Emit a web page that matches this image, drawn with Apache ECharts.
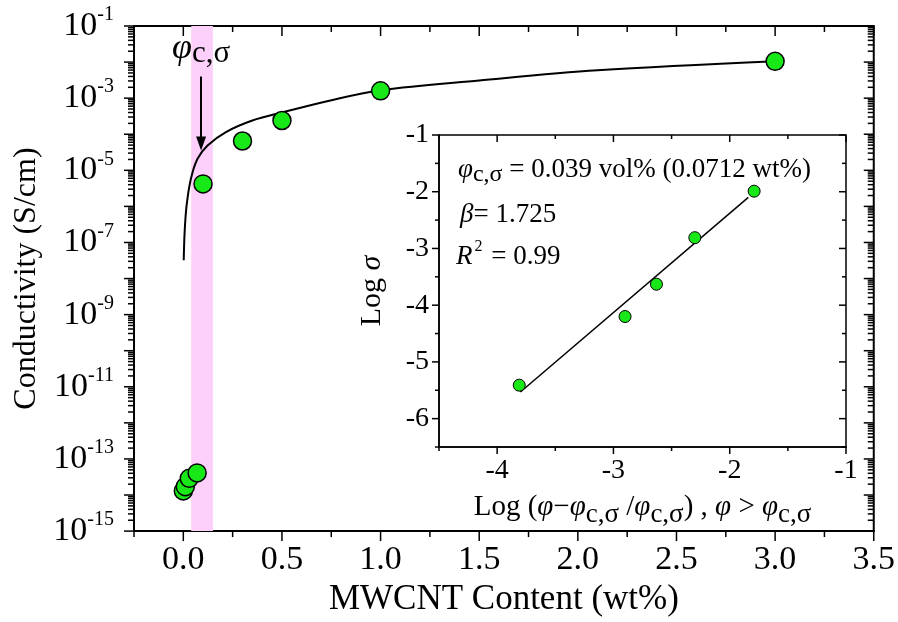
<!DOCTYPE html>
<html>
<head>
<meta charset="utf-8">
<script src="https://cdn.jsdelivr.net/npm/echarts@6/dist/echarts.min.js"></script>
<style>
html, body { margin: 0; padding: 0; background: #fff; }
#chart { width: 898px; height: 622px; }
</style>
</head>
<body>
<div id="chart"></div>
<script>
// main panel: measured conductivity vs MWCNT content
var contentWt = [0, 0.01, 0.03, 0.07, 0.1, 0.3, 0.5, 1.0, 3.0];
var conductivity = [1.3e-14, 1.7e-14, 2.9e-14, 4.1e-14, 4.2e-6, 6.5e-5, 2.4e-4, 1.6e-3, 1.05e-2];

// percolation fit curve
var fitWt = [0.002, 0.007, 0.017, 0.039, 0.072, 0.123, 0.216, 0.35, 0.5, 0.74, 1.0, 1.5, 2.1, 3.0];
var fitSigma = [3.2e-8, 2.1e-7, 1.1e-6, 6.0e-6, 2.1e-5, 4.9e-5, 1.15e-4, 2.4e-4, 4.0e-4, 8.5e-4, 1.66e-3, 3.1e-3, 5.9e-3, 1.05e-2];

// shaded threshold window and the arrow pointing at it
var bandWt = [0.04, 0.15];
var arrowWt = 0.09;
var arrowSigma = [4e-3, 5.5e-5];

// inset: log sigma vs log reduced content
var insetLogPhi = [-3.81, -2.90, -2.63, -2.30, -1.79];
var insetLogSigma = [-5.41, -4.20, -3.63, -2.81, -1.99];
var insetFitX = [-3.8, -1.84];
var insetFitY = [-5.53, -2.10];

// axis ranges and tick values
var mainXRange = [-0.25, 3.5];
var mainYRange = [1e-15, 1e-1];
var insetXRange = [-4.5, -1];
var insetYRange = [-6.5, -1];
var xLabelTicks = [0, 0.5, 1.0, 1.5, 2.0, 2.5, 3.0, 3.5];
var xMinorTicks = [-0.25, 0.25, 0.75, 1.25, 1.75, 2.25, 2.75, 3.25];
var yLabelTicks = [1e-15, 1e-13, 1e-11, 1e-9, 1e-7, 1e-5, 1e-3, 1e-1];
var yDecadeTicks = [1e-15, 1e-14, 1e-13, 1e-12, 1e-11, 1e-10, 1e-9, 1e-8, 1e-7, 1e-6, 1e-5, 1e-4, 1e-3, 1e-2, 1e-1];
var insetXTicks = [-4, -3, -2, -1];
var insetXMinor = [-4.5, -3.5, -2.5, -1.5];
var insetYTicks = [-6, -5, -4, -3, -2, -1];
var insetYMinor = [-6.5, -5.5, -4.5, -3.5, -2.5, -1.5];

// log minor ticks: 2..9 times every decade
var yMinorTicks = [];
for (var d = 0; d < yDecadeTicks.length - 1; d++) {
    for (var m = 2; m <= 9; m++) yMinorTicks.push(yDecadeTicks[d] * m);
}

var FONT = "'Liberation Serif', 'Times New Roman', serif";
var GREEN = '#18e818';

function pairs(xs, ys) {
    var out = [];
    for (var i = 0; i < xs.length; i++) out.push([xs[i], ys[i]]);
    return out;
}

// frame ticks on all four sides: [x, y, orientation(0 = x tick, 1 = y tick), length]
function frameTicks(xr, yr, xMajor, xMinor, yMajor, yMinor, majLen, minLen) {
    var out = [];
    xMajor.forEach(function (v) { out.push([v, yr[0], 0, majLen], [v, yr[1], 0, majLen]); });
    xMinor.forEach(function (v) { out.push([v, yr[0], 0, minLen], [v, yr[1], 0, minLen]); });
    yMajor.forEach(function (v) { out.push([xr[0], v, 1, majLen], [xr[1], v, 1, majLen]); });
    yMinor.forEach(function (v) { out.push([xr[0], v, 1, minLen], [xr[1], v, 1, minLen]); });
    return out;
}

// bottom/top ticks hang down (outward at bottom, inward at top),
// left/right ticks point left (outward at left, inward at right)
function tickRenderer(width) {
    return function (params, api) {
        var p = api.coord([api.value(0), api.value(1)]);
        var len = api.value(3);
        var isY = api.value(2) === 1;
        return {
            type: 'line',
            shape: { x1: p[0], y1: p[1], x2: isY ? p[0] - len : p[0], y2: isY ? p[1] : p[1] + len },
            style: { stroke: '#000', lineWidth: width }
        };
    };
}

var option = {
    backgroundColor: '#fff',
    animation: false,
    grid: [
        { left: 134, right: 22, top: 26, bottom: 85, show: true,
          borderColor: '#000', borderWidth: 2, backgroundColor: 'transparent' },
        { left: 439, right: 52, top: 135, bottom: 175, show: true,
          borderColor: '#000', borderWidth: 1.5, backgroundColor: 'transparent' }
    ],
    xAxis: [
        { type: 'value', gridIndex: 0, min: mainXRange[0], max: mainXRange[1],
          axisLine: { show: true, onZero: false, lineStyle: { color: '#000', width: 2 } },
          axisTick: { show: false }, splitLine: { show: false },
          axisLabel: { show: true, customValues: xLabelTicks, margin: 12,
                       color: '#000', fontFamily: FONT, fontSize: 34,
                       formatter: function (v) { return v.toFixed(1); } },
          name: 'MWCNT Content (wt%)', nameLocation: 'middle', nameGap: 49,
          nameTextStyle: { color: '#000', fontFamily: FONT, fontSize: 35 } },
        { type: 'value', gridIndex: 1, min: insetXRange[0], max: insetXRange[1],
          axisLine: { show: true, onZero: false, lineStyle: { color: '#000', width: 1.5 } },
          axisTick: { show: false }, splitLine: { show: false },
          axisLabel: { show: true, customValues: insetXTicks, margin: 10,
                       color: '#000', fontFamily: FONT, fontSize: 28 },
          name: 'Log ({i|φ}−{i|φ}{s|c,σ} /{i|φ}{s|c,σ}) , {i|φ} > {i|φ}{s|c,σ}',
          nameLocation: 'middle', nameGap: 40,
          nameTextStyle: { color: '#000', fontFamily: FONT, fontSize: 29,
              rich: {
                  i: { fontFamily: FONT, fontStyle: 'italic', fontSize: 29, color: '#000' },
                  s: { fontFamily: FONT, fontSize: 27, color: '#000', padding: [14, 0, 0, 0] }
              } } }
    ],
    yAxis: [
        { type: 'log', logBase: 10, gridIndex: 0, min: mainYRange[0], max: mainYRange[1],
          axisLine: { show: true, onZero: false, lineStyle: { color: '#000', width: 2 } },
          axisTick: { show: false }, splitLine: { show: false },
          axisLabel: { show: true, customValues: yLabelTicks, margin: 20,
                       color: '#000', fontFamily: FONT, fontSize: 34,
                       formatter: function (v) {
                           return '{b|10}{e|' + Math.round(Math.log10(v)) + '}';
                       },
                       rich: {
                           b: { fontFamily: FONT, fontSize: 34, color: '#000' },
                           e: { fontFamily: FONT, fontSize: 20, color: '#000', padding: [0, 0, 22, 0] }
                       } },
          name: 'Conductivity (S/cm)', nameLocation: 'middle', nameGap: 88,
          nameTextStyle: { color: '#000', fontFamily: FONT, fontSize: 32 } },
        { type: 'value', gridIndex: 1, min: insetYRange[0], max: insetYRange[1],
          axisLine: { show: true, onZero: false, lineStyle: { color: '#000', width: 1.5 } },
          axisTick: { show: false }, splitLine: { show: false },
          axisLabel: { show: true, customValues: insetYTicks, margin: 10,
                       color: '#000', fontFamily: FONT, fontSize: 28 },
          name: 'Log {i|σ}', nameLocation: 'middle', nameGap: 52,
          nameTextStyle: { color: '#000', fontFamily: FONT, fontSize: 30,
              rich: { i: { fontFamily: FONT, fontStyle: 'italic', fontSize: 30, color: '#000' } } } }
    ],
    graphic: [
        { type: 'text', left: 172, top: 31, z: 100,
          style: { text: '{i|φ}{s|c,σ}', fill: '#000',
                   rich: {
                       i: { fontFamily: FONT, fontStyle: 'italic', fontSize: 36, fill: '#000' },
                       s: { fontFamily: FONT, fontSize: 31, fill: '#000', padding: [10, 0, 0, 0] }
                   } } },
        { type: 'text', left: 458, top: 156, z: 100,
          style: { text: '{i|φ}{s|c,σ}{n| = 0.039 vol% (0.0712 wt%)}', fill: '#000',
                   rich: {
                       i: { fontFamily: FONT, fontStyle: 'italic', fontSize: 27, fill: '#000' },
                       s: { fontFamily: FONT, fontSize: 24, fill: '#000', padding: [10, 0, 0, 0] },
                       n: { fontFamily: FONT, fontSize: 27, fill: '#000' }
                   } } },
        { type: 'text', left: 460, top: 201, z: 100,
          style: { text: '{i|β}{n|= 1.725}', fill: '#000',
                   rich: {
                       i: { fontFamily: FONT, fontStyle: 'italic', fontSize: 27, fill: '#000' },
                       n: { fontFamily: FONT, fontSize: 27, fill: '#000' }
                   } } },
        { type: 'text', left: 456, top: 239, z: 100,
          style: { text: '{i|R}{p|2}{n| = 0.99}', fill: '#000',
                   rich: {
                       i: { fontFamily: FONT, fontStyle: 'italic', fontSize: 27, fill: '#000' },
                       p: { fontFamily: FONT, fontSize: 16, fill: '#000', padding: [0, 2, 20, 2] },
                       n: { fontFamily: FONT, fontSize: 27, fill: '#000' }
                   } } }
    ],
    series: [
        {
            // pink threshold band
            type: 'line', xAxisIndex: 0, yAxisIndex: 0, data: [], z: 1, silent: true,
            markArea: {
                silent: true,
                itemStyle: { color: '#fcd0fa' },
                data: [[{ xAxis: bandWt[0] }, { xAxis: bandWt[1] }]]
            }
        },
        {
            type: 'line', xAxisIndex: 0, yAxisIndex: 0, z: 2,
            data: pairs(fitWt, fitSigma),
            showSymbol: false, smooth: 0.35,
            lineStyle: { color: '#000', width: 2 },
            markLine: {
                silent: true, symbol: ['none', 'triangle'], symbolSize: [10, 14],
                label: { show: false },
                lineStyle: { color: '#000', width: 2, type: 'solid' },
                data: [[{ coord: [arrowWt, arrowSigma[0]] }, { coord: [arrowWt, arrowSigma[1]] }]]
            }
        },
        {
            type: 'scatter', xAxisIndex: 0, yAxisIndex: 0, z: 3,
            data: pairs(contentWt, conductivity),
            symbolSize: 18,
            itemStyle: { color: GREEN, borderColor: '#000', borderWidth: 1.5, opacity: 1 }
        },
        {
            type: 'line', xAxisIndex: 1, yAxisIndex: 1, z: 2,
            data: pairs(insetFitX, insetFitY),
            showSymbol: false,
            lineStyle: { color: '#000', width: 1.5 }
        },
        {
            type: 'scatter', xAxisIndex: 1, yAxisIndex: 1, z: 3,
            data: pairs(insetLogPhi, insetLogSigma),
            symbolSize: 12,
            itemStyle: { color: GREEN, borderColor: '#000', borderWidth: 1, opacity: 1 }
        },
        {
            // frame ticks, main panel
            type: 'custom', xAxisIndex: 0, yAxisIndex: 0, z: 5, silent: true, clip: false,
            dimensions: ['x', 'y', 'dir', 'len'], encode: { x: 0, y: 1 },
            data: frameTicks(mainXRange, mainYRange, xLabelTicks, xMinorTicks, yDecadeTicks, yMinorTicks, 10, 6),
            renderItem: tickRenderer(1.5)
        },
        {
            // frame ticks, inset
            type: 'custom', xAxisIndex: 1, yAxisIndex: 1, z: 5, silent: true, clip: false,
            dimensions: ['x', 'y', 'dir', 'len'], encode: { x: 0, y: 1 },
            data: frameTicks(insetXRange, insetYRange, insetXTicks, insetXMinor, insetYTicks, insetYMinor, 7, 4),
            renderItem: tickRenderer(1.5)
        }
    ]
};

var myChart = echarts.init(document.getElementById('chart'), null, { renderer: 'canvas' });
myChart.setOption(option);
</script>
</body>
</html>
